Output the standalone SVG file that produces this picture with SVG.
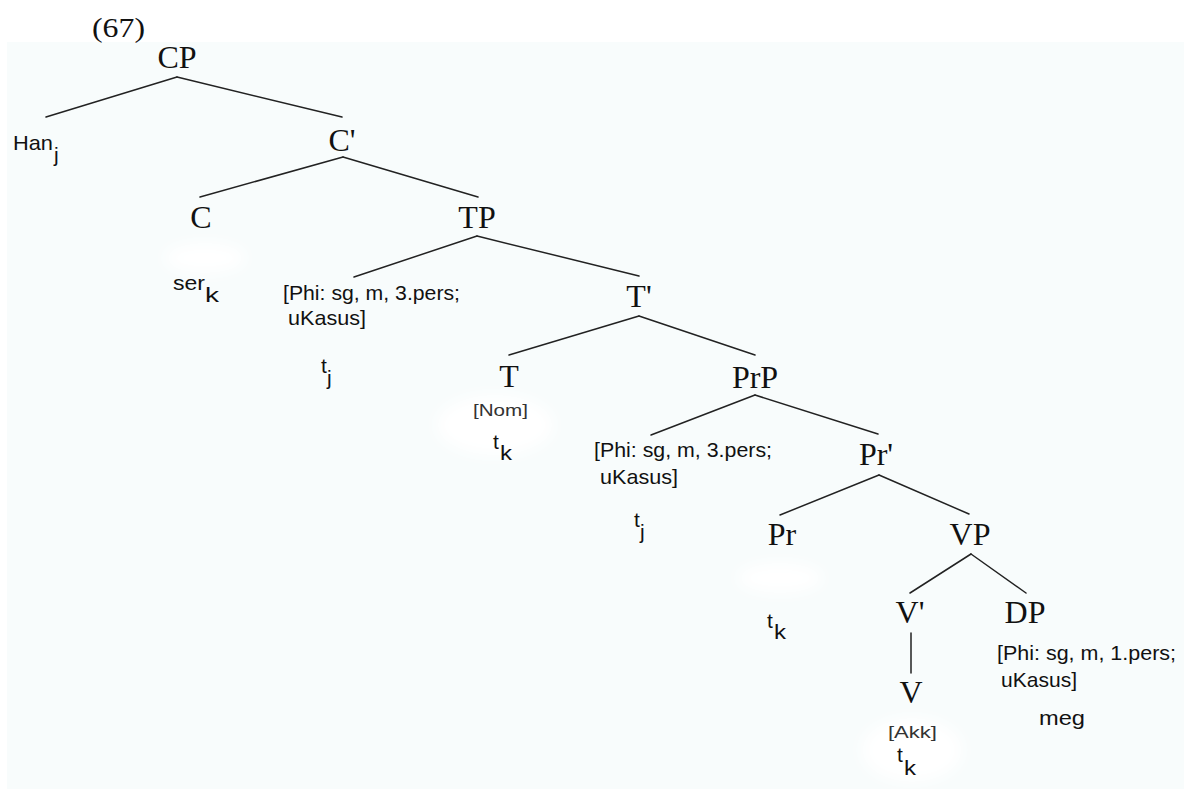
<svg xmlns="http://www.w3.org/2000/svg" width="1184" height="789" viewBox="0 0 1184 789">
<defs>
<style>
.lbl{font-family:"Liberation Serif","Times New Roman",serif;font-size:32px;fill:#111;text-anchor:middle}
.ser{font-family:"Liberation Serif","Times New Roman",serif;fill:#111}
.s{font-family:"Liberation Sans",Arial,sans-serif;font-size:21px;fill:#111}
.g{font-family:"Liberation Sans",Arial,sans-serif;font-size:17px;fill:#333}
.edge{stroke:#222;stroke-width:1.5;fill:none;stroke-linecap:round}
</style>
<filter id="blur" x="-50%" y="-50%" width="200%" height="200%"><feGaussianBlur stdDeviation="7"/></filter>
</defs>
<rect width="1184" height="789" fill="#ffffff"/>
<rect x="7" y="42" width="1177" height="747" fill="#f8fcfc"/>
<g id="blobs" fill="#ffffff" filter="url(#blur)">
<ellipse cx="205" cy="258" rx="40" ry="15"/>
<ellipse cx="495" cy="425" rx="58" ry="30"/>
<ellipse cx="780" cy="578" rx="42" ry="15"/>
<ellipse cx="912" cy="750" rx="50" ry="32"/>
</g>
<text class="ser" x="92" y="37" font-size="27" textLength="53" lengthAdjust="spacingAndGlyphs">(67)</text>
<g id="connectors">
<line class="edge" x1="177" y1="77" x2="46" y2="117"/>
<line class="edge" x1="177" y1="77" x2="342" y2="117"/>
<line class="edge" x1="343" y1="157" x2="200" y2="197"/>
<line class="edge" x1="343" y1="157" x2="478" y2="197"/>
<line class="edge" x1="477" y1="236" x2="354" y2="277"/>
<line class="edge" x1="477" y1="236" x2="639" y2="276"/>
<line class="edge" x1="639" y1="316" x2="509" y2="355"/>
<line class="edge" x1="639" y1="316" x2="755" y2="355"/>
<line class="edge" x1="755" y1="395" x2="651" y2="435"/>
<line class="edge" x1="755" y1="395" x2="878" y2="434"/>
<line class="edge" x1="879" y1="475" x2="780" y2="515"/>
<line class="edge" x1="879" y1="475" x2="969" y2="514"/>
<line class="edge" x1="971" y1="554" x2="910" y2="593"/>
<line class="edge" x1="971" y1="554" x2="1026" y2="593"/>
<line class="edge" x1="911" y1="633" x2="911" y2="673"/>
</g>
<g id="CP"><text class="lbl" x="177" y="68">CP</text></g>
<g id="Han"><text class="s" x="13" y="150" textLength="40" lengthAdjust="spacingAndGlyphs">Han</text><text class="s" x="54" y="162">j</text></g>
<g id="Cbar"><text class="lbl" x="342" y="151">C'</text></g>
<g id="C"><text class="lbl" x="201" y="228">C</text></g>
<g id="serk"><text class="s" x="173" y="290" textLength="32" lengthAdjust="spacingAndGlyphs">ser</text><text class="s" x="205" y="302" textLength="14" lengthAdjust="spacingAndGlyphs">k</text></g>
<g id="TP"><text class="lbl" x="477" y="228">TP</text></g>
<g id="specTP">
<text class="s" x="283" y="300" textLength="177" lengthAdjust="spacingAndGlyphs">[Phi: sg, m, 3.pers;</text>
<text class="s" x="288" y="325" textLength="78" lengthAdjust="spacingAndGlyphs">uKasus]</text>
<text class="s" x="321" y="373">t</text><text class="s" x="327" y="385">j</text>
</g>
<g id="Tbar"><text class="lbl" x="639" y="307">T'</text></g>
<g id="T"><text class="lbl" x="509" y="387">T</text>
<text class="g" x="473" y="416" textLength="55" lengthAdjust="spacingAndGlyphs">[Nom]</text>
<text class="s" x="493" y="449">t</text><text class="s" x="500" y="460" textLength="12" lengthAdjust="spacingAndGlyphs">k</text>
</g>
<g id="PrP"><text class="lbl" x="755" y="388">PrP</text></g>
<g id="specPrP">
<text class="s" x="594" y="457" textLength="178" lengthAdjust="spacingAndGlyphs">[Phi: sg, m, 3.pers;</text>
<text class="s" x="600" y="484" textLength="78" lengthAdjust="spacingAndGlyphs">uKasus]</text>
<text class="s" x="634" y="527">t</text><text class="s" x="640" y="539">j</text>
</g>
<g id="Prbar"><text class="lbl" x="876" y="465">Pr'</text></g>
<g id="Pr"><text class="lbl" x="782" y="545">Pr</text>
<text class="s" x="767" y="628">t</text><text class="s" x="774" y="639" textLength="12" lengthAdjust="spacingAndGlyphs">k</text>
</g>
<g id="VP"><text class="lbl" x="970" y="545">VP</text></g>
<g id="Vbar"><text class="lbl" x="910" y="623">V'</text></g>
<g id="V"><text class="lbl" x="911" y="703">V</text>
<text class="g" x="888" y="738" textLength="49" lengthAdjust="spacingAndGlyphs">[Akk]</text>
<text class="s" x="897" y="762">t</text><text class="s" x="904" y="775" textLength="12" lengthAdjust="spacingAndGlyphs">k</text>
</g>
<g id="DP"><text class="lbl" x="1025" y="623">DP</text>
<text class="s" x="997" y="660" textLength="179" lengthAdjust="spacingAndGlyphs">[Phi: sg, m, 1.pers;</text>
<text class="s" x="1001" y="687" textLength="76" lengthAdjust="spacingAndGlyphs">uKasus]</text>
<text class="s" x="1039" y="725" textLength="46" lengthAdjust="spacingAndGlyphs">meg</text>
</g>
</svg>
